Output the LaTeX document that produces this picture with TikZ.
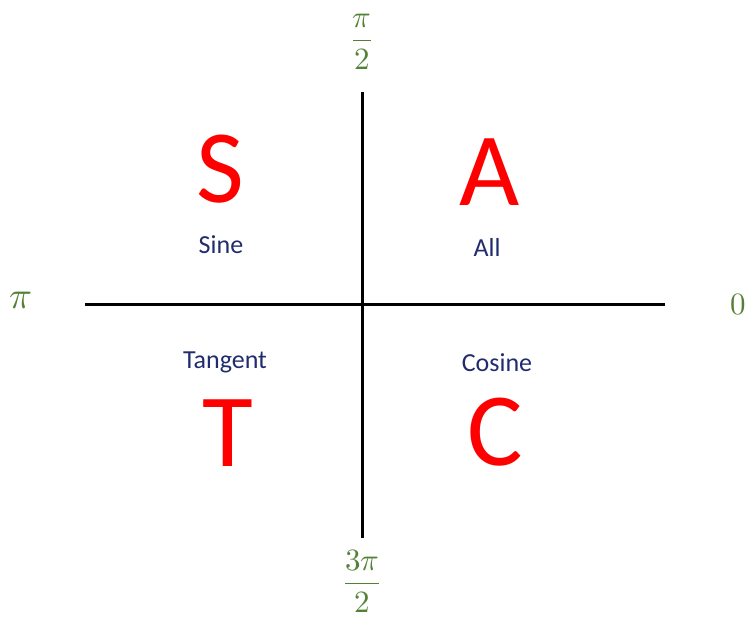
\documentclass[tikz,border=0pt]{standalone}
\usepackage{fontspec}
\usepackage{unicode-math}
\setmainfont{Carlito}
\setmathfont{Latin Modern Math}
\definecolor{sred}{RGB}{255,0,0}
\definecolor{sblue}{RGB}{32,44,110}
\definecolor{sgreen}{RGB}{84,130,53}
\begin{document}
\begin{tikzpicture}[x=1pt,y=-1pt,
  big/.style={text=sred,font=\fontsize{104}{104}\selectfont,inner sep=0pt,anchor=base},
  word/.style={text=sblue,font=\fontsize{26}{26}\selectfont,inner sep=0pt,anchor=base},
  ang/.style={text=sgreen,font=\fontsize{31}{31}\selectfont,inner sep=0pt},
  axis/.style={line width=3pt,black}]
\useasboundingbox (0,0) rectangle (749,619);
\coordinate (L) at (85,304);
\coordinate (R) at (665,304);
\coordinate (T) at (362.5,92);
\coordinate (B) at (362.5,538);
\draw[axis] (L) -- (R);
\draw[axis] (T) -- (B);
\node[big] (S) at (220,202) {S};
\node[big] (A) at (490,205) {A};
\node[big] (Tl) at (228,466) {T};
\node[big] (C) at (495,465) {C};
\node[word] (sine) at (221,253) {Sine};
\node[word] (all) at (487,256) {All};
\node[word] (tan) at (225,368) {Tangent};
\node[word] (cos) at (497,371) {Cosine};
\node[ang,font=\fontsize{38}{38}\selectfont] (pi) at (21,301) {$\pi$};
\node[ang] (zero) at (738,305) {$0$};
\node[ang] (top) at (362,42) {$\displaystyle\frac{\pi}{2}$};
\node[ang] (bot) at (362,581) {$\displaystyle\frac{3\pi}{2}$};
\end{tikzpicture}
\end{document}
